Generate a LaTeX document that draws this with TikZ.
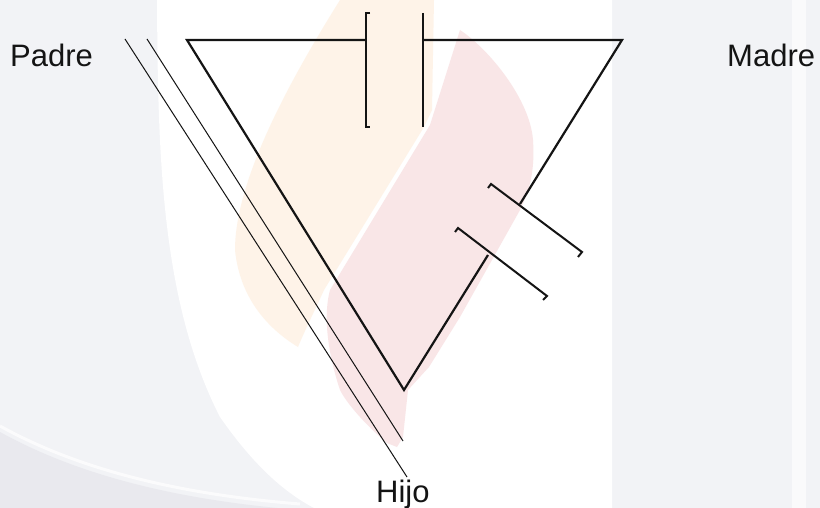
\documentclass[tikz,border=0pt]{standalone}
\usepackage{fontspec}
\setmainfont{Liberation Sans}
\definecolor{bggray}{RGB}{242,243,246}
\definecolor{darkgray2}{RGB}{233,233,238}
\definecolor{wmpink}{RGB}{249,230,231}
\definecolor{wmorange}{RGB}{254,243,232}
\definecolor{inkc}{RGB}{20,20,20}
\begin{document}
\begin{tikzpicture}[x=1pt,y=-1pt,
  edge/.style={draw=inkc,line width=2.2pt,line cap=butt,line join=miter},
  plate/.style={draw=inkc,line width=2pt,line cap=butt,line join=miter},
  thinline/.style={draw=inkc,line width=1pt},
  lbl/.style={anchor=base west,inner sep=0pt,font=\fontsize{31}{31}\selectfont,text=inkc}]
\useasboundingbox (0,0) rectangle (820,508);
% background watermark
\fill[bggray] (0,0) rectangle (820,508);
\fill[darkgray2] (0,432) .. controls (90,482) and (200,502) .. (300,510) -- (0,510) -- cycle;
\draw[white!70!bggray,line width=3pt] (0,426) .. controls (90,476) and (200,496) .. (300,504);
\fill[white!60!bggray] (792,0) rectangle (806,508);
\fill[white] (157,0) .. controls (158,150) and (160,300) .. (220,417) .. controls (250,460) and (280,490) .. (314,508) -- (612,508) -- (612,0) -- cycle;
\fill[wmorange] (340,0) -- (434,0) -- (432,110) -- (424,127) -- (324,290) .. controls (315,310) and (305,330) .. (298,347)
  .. controls (270,330) and (240,300) .. (235,250) .. controls (235,180) and (290,80) .. (340,0) -- cycle;
\fill[wmpink] (460,30) .. controls (490,50) and (530,100) .. (533,140) .. controls (535,170) and (530,190) .. (520,210)
  -- (460,317) -- (429,367) -- (408,390) -- (403,437) -- (397,447) -- (387,443)
  .. controls (360,420) and (345,400) .. (340,390) .. controls (330,360) and (322,320) .. (330,290)
  -- (430,125) -- cycle;
% labels
\node[lbl] (padre) at (10,67) {Padre};
\node[lbl] (madre) at (727,67) {Madre};
\node[lbl] (hijo) at (376,502) {Hijo};
% triangle corners and gap points
\coordinate (A) at (187,40);
\coordinate (B) at (622,40);
\coordinate (C) at (404,390);
\coordinate (tl) at (366,40);
\coordinate (tr) at (423,40);
\coordinate (ru) at (520,204);
\coordinate (rl) at (488,255);
% triangle edges
\draw[edge] (tl) -- (A) -- (C) -- (rl);
\draw[edge] (tr) -- (B) -- (ru);
% top plates
\coordinate (p1a) at (366,13); \coordinate (p1b) at (366,127);
\coordinate (p2a) at (423,13); \coordinate (p2b) at (423,127);
\draw[plate] ([xshift=4]p1a) -- (p1a) -- (p1b) -- ([xshift=4]p1b);
\draw[plate] (p2a) -- (p2b);
% right plates
\coordinate (q1a) at (491,184); \coordinate (q1b) at (582,252);
\coordinate (q2a) at (458,228); \coordinate (q2b) at (547,296);
\draw[plate] (488,188) -- (q1a) -- (q1b) -- (578,257);
\draw[plate] (455,232) -- (q2a) -- (q2b) -- (543,300);
% parallel lines
\coordinate (l1a) at (125,39); \coordinate (l1b) at (407,477);
\coordinate (l2a) at (147,39); \coordinate (l2b) at (403,441);
\draw[thinline] (l1a) -- (l1b);
\draw[thinline] (l2a) -- (l2b);
\end{tikzpicture}
\end{document}
